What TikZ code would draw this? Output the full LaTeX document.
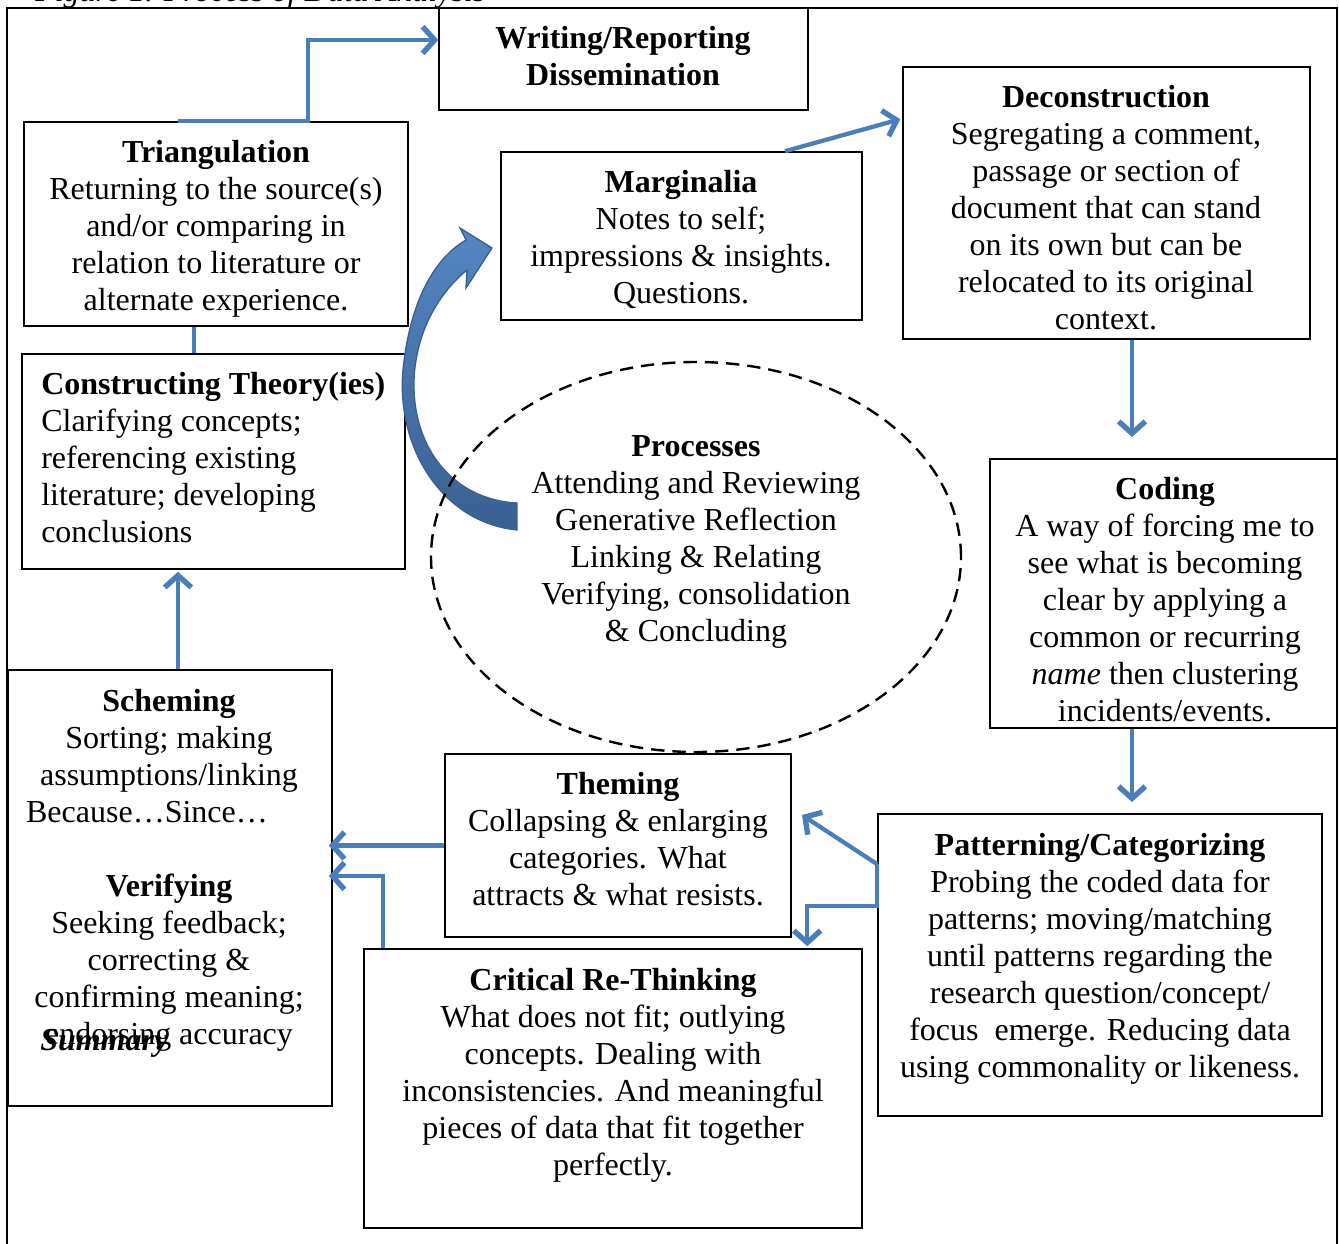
\documentclass[tikz,border=0pt]{standalone}
\usepackage{fontspec}
\setmainfont{Liberation Serif}
\usetikzlibrary{arrows.meta,calc,fit,shapes.geometric}
\definecolor{flowblue}{RGB}{74,126,187}
\definecolor{arrowblue}{RGB}{84,134,194}
\definecolor{arrowdark}{RGB}{58,96,146}
\begin{document}
\begin{tikzpicture}[x=0.75pt,y=-0.75pt,
	every node/.style={font=\fontsize{24}{27.75}\selectfont},
	box/.style={draw,line width=1.2pt,inner sep=0pt},
	txt/.style={align=center,inner sep=0pt,anchor=north},
	flow/.style={flowblue,line width=3.2pt,-{Straight Barb[length=9pt,width=20pt,line width=4pt 0 0]}},
	link/.style={flowblue,line width=3.2pt}]
			\useasboundingbox (0,0) rectangle (1339,1243);
			\draw[line width=1.2pt] (7,8) rectangle (1337,1290);
			\node[anchor=base west,inner sep=0pt] (cap) at (35,1) {\textit{Figure 1. Process of Data Analysis}};
			\node[box,fit={(439,8)(808,110)}] (wri) {};
			\node[box,fit={(24,122)(408,326)}] (tri) {};
			\node[box,fit={(501,152)(862,320)}] (mar) {};
			\node[box,fit={(903,67)(1310,339)}] (dec) {};
			\node[box,fit={(22,354)(405,569)}] (con) {};
			\node[box,fit={(990,459)(1337,728)}] (cod) {};
			\node[box,fit={(8,670)(332,1106)}] (sch) {};
			\node[box,fit={(445,754)(791,937)}] (the) {};
			\node[box,fit={(878,814)(1322,1116)}] (pat) {};
			\node[box,fit={(364,949)(862,1228)}] (cri) {};
			\draw[arrowdark,line width=1pt,top color=arrowblue,bottom color=arrowdark] (517,530) .. controls (440,522) and (396,445) .. (403,370) .. controls (410,300) and (435,258) .. (466,240) -- (460,228) -- (492,248) -- (466,288) -- (467,270) .. controls (440,292) and (416,330) .. (414,380) .. controls (412,450) and (455,500) .. (517,503) -- cycle;
			\node[draw,ellipse,dashed,dash pattern=on 10pt off 6pt,line width=1.8pt,inner sep=0pt,minimum width=397.5pt,minimum height=292.5pt] (pro) at (696,557) {};
			\draw[flow] ($(tri.north)+(-38,0)$) -- ($(tri.north)+(92,0)$) |- ($(wri.west)+(0,-19)$);
			\draw[link] ($(tri.south)+(-22,0)$) -- ($(con.north)+(-19.5,0)$);
			\draw[flow] ($(mar.north)+(103.5,0)$) -- ($(dec.north west)+(-2,53)$);
			\coordinate (dec-end) at (1132,437);
			\draw[flow] (dec.south -| dec-end) -- (dec-end);
			\coordinate (cod-end) at (1132,802);
			\draw[flow] (cod.south -| cod-end) -- (cod-end);
			\coordinate (pat-in) at ($(pat.north west)+(0,51)$);
			\coordinate (the-end) at (802,815);
			\draw[flow] (pat-in) -- (the-end);
			\draw[flow] (pat-in) -- ++(0,42) -| ($(cri.north west)+(444,-2)$);
			\draw[flow] (the.west) -- ($(the.west -| sch.east)+(-4,0)$);
			\draw[flow] ($(cri.north west)+(20,0)$) |- ($(sch.east)+(-4,-12)$);
			\draw[flow] ($(sch.north)+(8,0)$) -- ($(con.south)+(-35.5,2)$);
			\node[txt] (wri-t) at (623,26) {\textbf{Writing/Reporting}\\\textbf{Dissemination}};
			\node[txt] (tri-t) at (216,140) {\textbf{Triangulation}\\Returning to the source(s)\\and/or comparing in\\relation to literature or\\alternate experience.};
			\node[txt] (mar-t) at (681,170) {\textbf{Marginalia}\\Notes to self;\\impressions \& insights.\\Questions.};
			\node[txt] (dec-t) at (1106,85) {\textbf{Deconstruction}\\Segregating a comment,\\passage or section of\\document that can stand\\on its own but can be\\relocated to its original\\context.};
			\node[txt,align=left,anchor=north west] (con-t) at (41,372) {\textbf{Constructing Theory(ies)}\\Clarifying concepts;\\referencing existing\\literature; developing\\conclusions};
			\node[txt] (pro-t) at (696,435) {\textbf{Processes}\\Attending and Reviewing\\Generative Reflection\\Linking \& Relating\\Verifying, consolidation\\\& Concluding};
			\node[txt] (cod-t) at (1165,477) {\textbf{Coding}\\A way of forcing me to\\see what is becoming\\clear by applying a\\common or recurring\\\textit{name} then clustering\\incidents/events.};
			\node[txt] (sch-t) at (169,689) {\textbf{Scheming}\\Sorting; making\\assumptions/linking\\Because…Since…\hspace*{33pt}\mbox{}\\[27.75pt]\textbf{Verifying}\\Seeking feedback;\\correcting \&\\confirming meaning;\\endorsing accuracy};
			\node[anchor=base west,inner sep=0pt] (sum) at (40,1050) {\textbf{\textit{Summary}}};
			\node[txt] (the-t) at (618,772) {\textbf{Theming}\\Collapsing \& enlarging\\categories. What\\attracts \& what resists.};
			\node[txt] (pat-t) at (1100,833) {\textbf{Patterning/Categorizing}\\Probing the coded data for\\patterns; moving/matching\\until patterns regarding the\\research question/concept/\\focus\ \ emerge. Reducing data\\using commonality or likeness.};
			\node[txt] (cri-t) at (613,968) {\textbf{Critical Re-Thinking}\\What does not fit; outlying\\concepts. Dealing with\\inconsistencies. And meaningful\\pieces of data that fit together\\perfectly.};
		\end{tikzpicture}
\end{document}
